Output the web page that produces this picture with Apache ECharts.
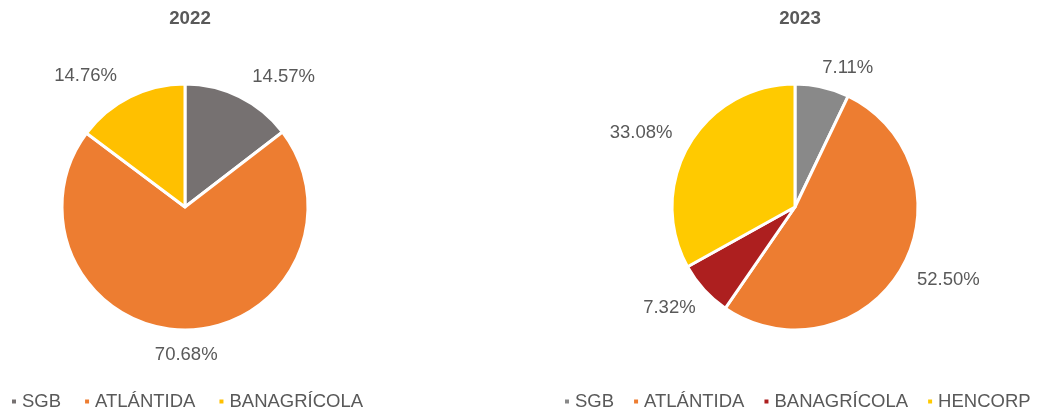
<!DOCTYPE html>
<html>
<head>
<meta charset="utf-8">
<script src="https://cdn.jsdelivr.net/npm/echarts@6/dist/echarts.min.js"></script>
<style>
  html, body { margin: 0; padding: 0; background: #fff; }
  #chart { width: 1045px; height: 414px; }
</style>
</head>
<body>
<div id="chart"></div>
<script>
const names2022 = ["SGB", "ATLÁNTIDA", "BANAGRÍCOLA"];
const values2022 = [14.57, 70.68, 14.76];
const colors2022 = ["#767171", "#ED7D31", "#FFC000"];

const names2023 = ["SGB", "ATLÁNTIDA", "BANAGRÍCOLA", "HENCORP"];
const values2023 = [7.11, 52.50, 7.32, 33.08];
const colors2023 = ["#898989", "#ED7D31", "#AD1F1F", "#FFCA00"];

const TEXT = "#595959";
const FONT = "Liberation Sans, Arial, sans-serif";

// small nudges so labels sit where Excel puts them
const nudge2022 = [[0, -4], [-36, 7], [0, -5]];
const nudge2023 = [[-9, -2], [-5, 2], [10, 6], [4, -3]];

const pieSeries = (names, values, colors, center, nudge) => ({
  type: "pie",
  center,
  radius: 123,
  startAngle: 90,
  clockwise: true,
  avoidLabelOverlap: false,
  animation: false,
  silent: true,
  itemStyle: { borderColor: "#fff", borderWidth: 3 },
  label: {
    show: true,
    position: "outside",
    color: TEXT,
    fontSize: 18.5,
    fontFamily: FONT,
    formatter: (p) => p.value.toFixed(2) + "%",
  },
  labelLine: { show: false, length: 18, length2: 0 },
  labelLayout: (p) => ({ dx: nudge[p.dataIndex][0], dy: nudge[p.dataIndex][1] }),
  data: names.map((n, i) => ({ name: n, value: values[i], itemStyle: { color: colors[i] } })),
});

const legendFor = (names, colors, left, gap) => ({
  left,
  top: 392,
  width: 1045 - left,
  padding: 0,
  orient: "horizontal",
  icon: "rect",
  itemWidth: 6,
  itemHeight: 6,
  itemGap: gap,
  selectedMode: false,
  textStyle: { color: TEXT, fontSize: 18.5, fontFamily: FONT },
  data: names.map((n, i) => ({ name: n, itemStyle: { color: colors[i] } })),
});

const chart = echarts.init(document.getElementById("chart"), null, { renderer: "canvas" });
chart.setOption({
  animation: false,
  title: [
    { text: "2022", left: 185, top: 4, textAlign: "center",
      textStyle: { color: TEXT, fontSize: 18.7, fontWeight: "bold", fontFamily: FONT } },
    { text: "2023", left: 795, top: 4, textAlign: "center",
      textStyle: { color: TEXT, fontSize: 18.7, fontWeight: "bold", fontFamily: FONT } },
  ],
  legend: [
    legendFor(names2022, colors2022, 10, 22),
    legendFor(names2023, colors2023, 563, 18),
  ],
  series: [
    pieSeries(names2022, values2022, colors2022, [185, 207], nudge2022),
    pieSeries(names2023, values2023, colors2023, [795, 207], nudge2023),
  ],
});
</script>
</body>
</html>
